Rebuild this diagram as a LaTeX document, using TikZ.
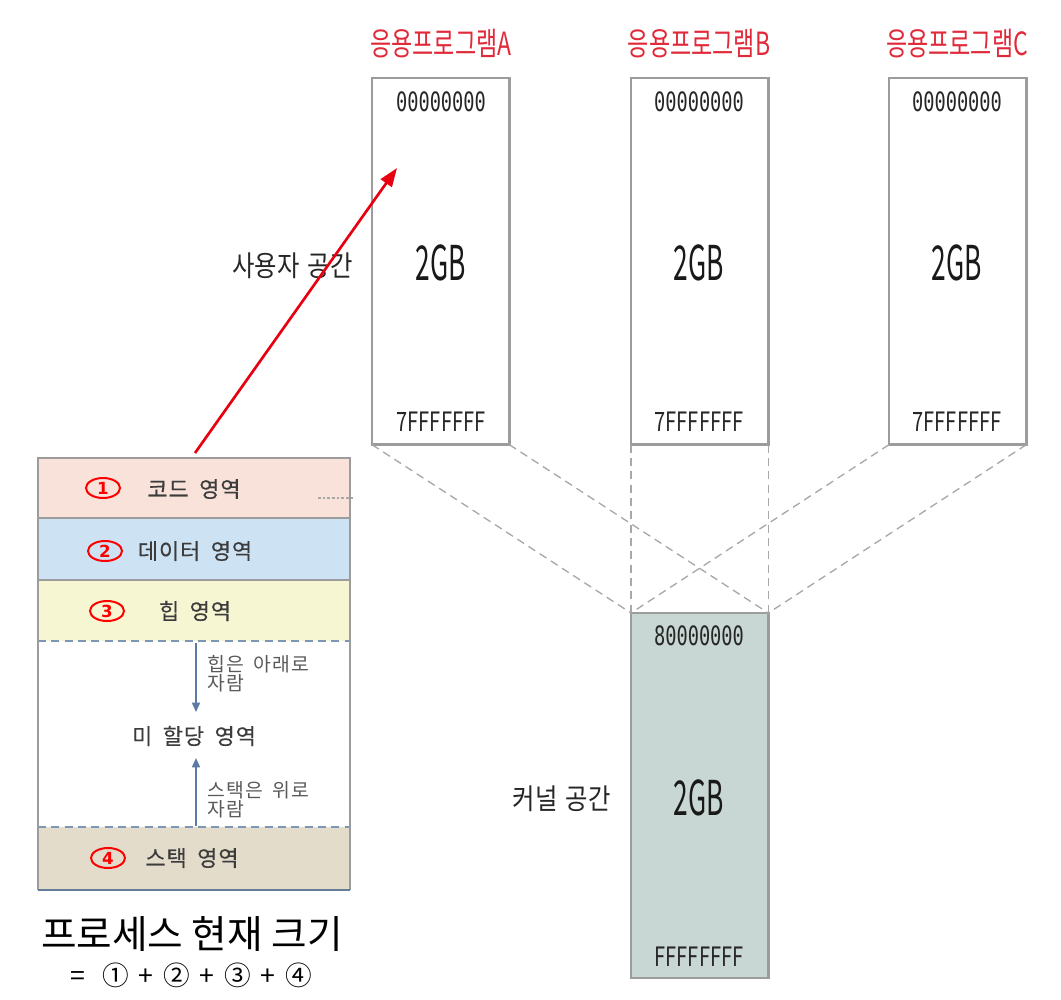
\documentclass[tikz,border=0pt]{standalone}
\usepackage{fontspec}
\setmainfont{Noto Sans CJK KR}
\newfontfamily\krlab[FakeStretch=0.72]{Noto Sans CJK KR}
\newfontfamily\krside[FakeStretch=0.85,WordSpace=1.5]{Noto Sans CJK KR}
\newfontfamily\krbig[FakeStretch=0.55]{Noto Sans CJK KR}
\newfontfamily\krhex[FakeStretch=0.75]{Noto Sans CJK KR}
\newfontfamily\monohex[FakeStretch=0.7]{DejaVu Sans Mono}
\newfontfamily\krbox[LetterSpace=4,WordSpace=1.8,FakeBold=0.3]{Noto Sans CJK KR}
\newfontfamily\krsmall[LetterSpace=8,WordSpace=1.5]{Noto Sans CJK KR}
\newfontfamily\kr{Noto Sans CJK KR}
\newfontfamily\dvs{DejaVu Sans}
\usetikzlibrary{arrows.meta,shapes.geometric}
\definecolor{labred}{HTML}{E02A3A}
\definecolor{boxgray}{HTML}{9C9C9C}
\definecolor{dashgray}{HTML}{A8A8A8}
\definecolor{kfill}{HTML}{C8D7D3}
\definecolor{codefill}{HTML}{F8E2D9}
\definecolor{datafill}{HTML}{CDE3F4}
\definecolor{heapfill}{HTML}{F7F6D3}
\definecolor{stackfill}{HTML}{E4DCCA}
\definecolor{txtgray}{HTML}{3C3C3C}
\definecolor{smallgray}{HTML}{5A5A5A}
\definecolor{bluegray}{HTML}{5B7CA2}
\definecolor{arrred}{HTML}{E80010}
\tikzset{
  membox/.style={draw=boxgray, line width=2pt, anchor=north west, minimum width=103pt, minimum height=275pt, inner sep=0pt, outer sep=0pt},
  proglabel/.style={text=labred, font=\krlab\fontsize{24}{26}\selectfont, inner sep=0pt},
  hexmono/.style={text=black!85, font=\monohex\fontsize{20}{22}\selectfont, inner sep=0pt},
  hexsans/.style={text=black!85, font=\krhex\fontsize{20}{22}\selectfont, inner sep=0pt},
  bigsize/.style={text=black!90, font=\krbig\fontsize{36}{38}\selectfont, inner sep=0pt},
  sidelabel/.style={text=black!85, font=\krside\fontsize{21.5}{23}\selectfont, inner sep=0pt},
  conn/.style={draw=dashgray, line width=1pt, dash pattern=on 6pt off 4pt},
  section/.style={anchor=north west, minimum width=234pt, inner sep=0pt, outer sep=0pt},
  secttext/.style={text=txtgray, font=\krbox\fontsize{16.5}{18}\selectfont, inner sep=0pt},
  smalltext/.style={text=smallgray, font=\krsmall\fontsize{14.5}{14.5}\selectfont, inner sep=0pt, align=left, anchor=west},
  circnum/.style={ellipse, draw=red, line width=1.5pt, text=red, minimum width=25.5pt, minimum height=15pt, inner sep=0pt, font=\dvs\bfseries\fontsize{12.5}{12.5}\selectfont},
  bluearrow/.style={draw=bluegray, line width=1.2pt, -{Triangle[length=7pt,width=6pt]}},
}
\begin{document}
\begin{tikzpicture}[x=0.75pt,y=-0.75pt]
\useasboundingbox (0,0) rectangle (1061,1000);

% user-space boxes
\node[membox] (A) at (372,78) {};
\node[membox] (B) at (631,78) {};
\node[membox] (C) at (889,78) {};
\node[membox, fill=kfill, minimum height=273.75pt] (K) at (631,613) {};

% labels
\node[proglabel] (LA) at (441,44) {응용프로그램A};
\node[proglabel] (LB) at (699,44) {응용프로그램B};
\node[proglabel] (LC) at (957,44) {응용프로그램C};

\foreach \n/\x in {A/441, B/699, C/957}{
  \node[hexmono] (\n top) at (\x,102) {00000000};
  \node[bigsize] (\n mid) at (\x,263) {2GB};
  \node[hexsans] (\n bot) at (\x,422) {7FFFFFFF};
}
\node[hexmono] (Ktop) at (699,636) {80000000};
\node[bigsize] (Kmid) at (699,798) {2GB};
\node[hexsans] (Kbot) at (699,957) {FFFFFFFF};

\node[sidelabel, anchor=east] (user) at (353,266) {사용자 공간};
\node[sidelabel, anchor=east] (kern) at (611,799) {커널 공간};

% dashed connectors
\draw[conn] (A.south west) -- (K.north west);
\draw[conn] (A.south east) -- (K.north east);
\draw[conn] (B.south west) -- (K.north west);
\draw[conn] (B.south east) -- (K.north east);
\draw[conn] (C.south west) -- (K.north west);
\draw[conn] (C.south east) -- (K.north east);

% process layout
\node[section, fill=codefill, minimum height=45pt] (code) at (38,458) {};
\node[section, fill=datafill, minimum height=46.5pt] (data) at (38,518) {};
\node[section, fill=heapfill, minimum height=45.75pt] (heap) at (38,580) {};
\node[section, fill=white, minimum height=139.5pt] (free) at (38,641) {};
\node[section, fill=stackfill, minimum height=47.25pt] (stack) at (38,827) {};

\draw[boxgray, line width=1.4pt] (code.south west) -- (code.south east);
\draw[boxgray, line width=1.4pt] (data.south west) -- (data.south east);
\draw[bluegray!80, line width=1.2pt, dash pattern=on 6pt off 4pt] (heap.south west) -- (heap.south east);
\draw[bluegray!80, line width=1.2pt, dash pattern=on 6pt off 4pt] (free.south west) -- (free.south east);
\draw[boxgray, line width=1.4pt] (stack.south west) -- (code.north west) -- (code.north east) -- (stack.south east);
\draw[bluegray!70!gray, line width=1.6pt] (stack.south west) -- (stack.south east);

% small dotted stub in code area
\coordinate (dotA) at (318,498);
\coordinate (dotB) at (354,498);
\draw[dashgray, line width=0.8pt, dash pattern=on 2pt off 1.5pt] (dotA) -- (dotB);

\node[circnum] (n1) at (103,488) {1};
\node[secttext] (t1) at (194,489) {코드 영역};
\node[circnum] (n2) at (105,551) {2};
\node[secttext] (t2) at (195,551) {데이터 영역};
\node[circnum] (n3) at (107,611) {3};
\node[secttext] (t3) at (195,611) {힙 영역};
\node[circnum] (n4) at (108,858) {4};
\node[secttext] (t4) at (192,858) {스택 영역};

\node[secttext] (t5) at (194,736) {미 할당 영역};
\node[smalltext] (h1) at (207,674) {힙은 아래로\\자람};
\node[smalltext] (s1) at (207,800) {스택은 위로\\자람};

\coordinate (hs) at (196,643);
\coordinate (he) at (196,712);
\coordinate (ss) at (196,826);
\coordinate (se) at (196,758);
\draw[bluearrow] (hs) -- (he);
\draw[bluearrow] (ss) -- (se);

% red arrow
\coordinate (redS) at (195,453);
\coordinate (redE) at (397,168);
\draw[arrred, line width=2pt, -{Triangle[length=14pt,width=10pt]}] (redS) -- (redE);

% bottom text
\node[text=black, font=\kr\fontsize{29}{31}\selectfont, inner sep=0pt] (title) at (192,934) {프로세스 현재 크기};
\node[text=black, font=\kr\fontsize{20}{22}\selectfont, inner sep=0pt] (formula) at (191,975) {=\hspace{13pt}①\hspace{7.3pt}+\hspace{7.3pt}②\hspace{7.3pt}+\hspace{7.3pt}③\hspace{7.3pt}+\hspace{7.3pt}④};
\end{tikzpicture}
\end{document}
